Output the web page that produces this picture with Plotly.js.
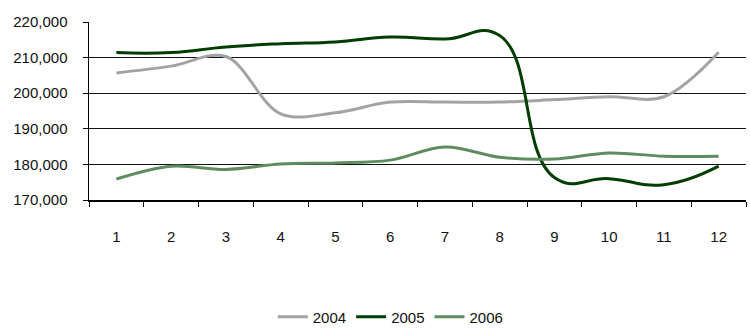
<!DOCTYPE html>
<html>
<head>
<meta charset="utf-8">
<script src="https://cdn.plot.ly/plotly-3.0.1.min.js"></script>
<style>html,body{margin:0;padding:0;background:#fff;}#chart{width:750px;height:332px;}</style>
</head>
<body>
<div id="chart"></div>
<script>
var months = ["1","2","3","4","5","6","7","8","9","10","11","12"];
var seriesNames = ["2004","2005","2006"];
var v2004 = [205700, 207600, 210300, 194200, 194500, 197500, 197500, 197500, 198200, 199000, 199000, 211500];
var v2005 = [211400, 211400, 213000, 213900, 214400, 215800, 215200, 216200, 176300, 176000, 174300, 179500];
var v2006 = [175900, 179500, 178600, 180100, 180400, 181200, 184900, 182000, 181500, 183200, 182300, 182300];
var yTicks = [170000, 180000, 190000, 200000, 210000, 220000];
var yTickText = ["170,000","180,000","190,000","200,000","210,000","220,000"];
var colors = ["#a3a3a3", "#003d00", "#5f8c5f"];
var smooth = [1, 1.3, 1];

var allValues = [v2004, v2005, v2006];
var traces = allValues.map(function(vals, i){
  return {
    x: months, y: vals, name: seriesNames[i], type: "scatter", mode: "lines",
    line: {color: colors[i], width: 3, shape: "spline", smoothing: smooth[i]},
    hoverinfo: "skip"
  };
});

var font = {family: "Liberation Sans, Arial, sans-serif", size: 15, color: "#111"};
var layout = {
  width: 750, height: 332,
  margin: {l: 89, r: 4, t: 22, b: 132},
  paper_bgcolor: "#fff", plot_bgcolor: "#fff",
  showlegend: true,
  font: font,
  xaxis: {
    type: "category", range: [-0.5, 11.5], tickson: "boundaries",
    showline: true, linecolor: "#000", linewidth: 1.5,
    ticks: "outside", ticklen: 5, tickcolor: "#000", tickwidth: 1,
    showgrid: false, zeroline: false, ticklabelstandoff: 22,
    tickfont: font, fixedrange: true
  },
  yaxis: {
    range: [170000, 220000], tickvals: yTicks, ticktext: yTickText,
    showline: true, linecolor: "#000", linewidth: 1.5,
    ticks: "outside", ticklen: 5, tickcolor: "#000", tickwidth: 1,
    showgrid: true, gridcolor: "#111", gridwidth: 1.3, zeroline: false,
    ticklabelstandoff: 12, tickfont: font, fixedrange: true
  },
  legend: {
    orientation: "h", xref: "container", yref: "container",
    x: 0.521, xanchor: "center", y: 15/332, yanchor: "middle",
    font: font, bgcolor: "rgba(0,0,0,0)", itemwidth: 30, tracegroupgap: 0
  }
};
Plotly.newPlot("chart", traces, layout, {staticPlot: true, displayModeBar: false});
</script>
</body>
</html>
